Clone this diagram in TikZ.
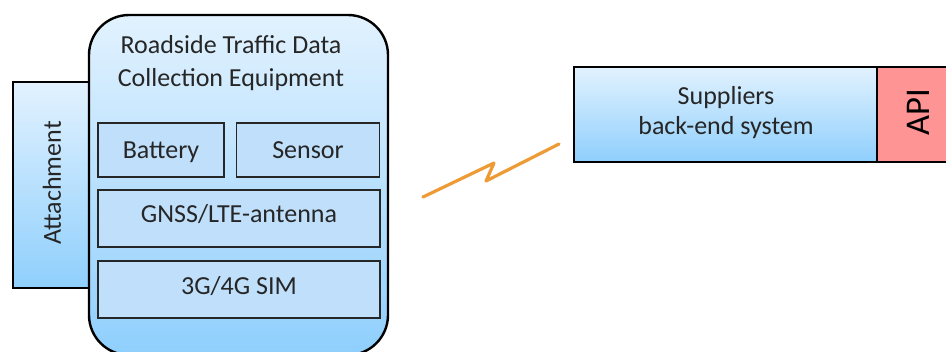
\documentclass[tikz,border=0pt]{standalone}
\usepackage{fontspec}
\setmainfont{Carlito}
\usetikzlibrary{positioning}

\definecolor{boxtop}{HTML}{E2F2FE}
\definecolor{boxbot}{HTML}{8FCFFD}
\definecolor{part}{HTML}{BFDFFB}
\definecolor{apired}{HTML}{FF9494}
\definecolor{bolt}{HTML}{EE9A35}
\definecolor{ink}{HTML}{262626}

% one pixel of the layout grid
\newcommand{\px}{0.75pt}

\tikzset{
	panel/.style={draw=black,line width=1.8pt,shading=axis,top color=boxtop,bottom color=boxbot,inner sep=0pt},
	part/.style={draw=ink,line width=0.9pt,fill=part,inner sep=0pt,text=ink,text height=17pt,text depth=4.4pt},
	label/.style={text=ink,font=\fontsize{19.5}{25}\selectfont,align=center}
}

\begin{document}
\begin{tikzpicture}[x=\px,y=-\px]
	\useasboundingbox (0,0) rectangle (946,351);
	% holder on the left, partly hidden
	\node[panel,minimum width=84*\px,minimum height=206*\px] (attach) at (55,185) {};
	\node[label,rotate=90] (attachtxt) at (52,183) {Attachment};
	% the equipment housing
	\node[panel,rounded corners=30pt,minimum width=299*\px,minimum height=340*\px] (equip) at (238.5,185) {};
	\node[label] (title) at (231,63) {Roadside Traffic Data\\Collection Equipment};
	\node[part,label,minimum width=126*\px,minimum height=54*\px] (battery) at (161,150) {Battery};
	\node[part,label,minimum width=143*\px,minimum height=54*\px] (sensor) at (308,150) {Sensor};
	\node[part,label,text depth=10.4pt,minimum width=282*\px,minimum height=57*\px] (gnss) at (239,218.5) {GNSS/LTE-antenna};
	\node[part,label,text depth=9.6pt,minimum width=282*\px,minimum height=57*\px] (sim) at (239,289.5) {3G/4G SIM};
	% back-end
	\node[panel,minimum width=303*\px,minimum height=95*\px] (backend) at (725.5,114.5) {};
	\node[label,font=\fontsize{19.5}{22.5}\selectfont] (backendtxt) at (726,113) {Suppliers\\back-end system};
	\node[draw=black,line width=1.8pt,fill=apired,minimum width=80*\px,minimum height=95*\px] (api) at (917,114.5) {};
	\node[text=black,font=\fontsize{26}{26}\selectfont,rotate=90] (apitxt) at (918,112) {API};
	% radio link
	\coordinate (bolt-a) at (423,197);
	\coordinate (bolt-b) at (559,144);
	\draw[bolt,line width=2.4pt,line cap=round,line join=round] (bolt-a) -- (494,163) -- (486,181) -- (bolt-b);
\end{tikzpicture}
\end{document}
